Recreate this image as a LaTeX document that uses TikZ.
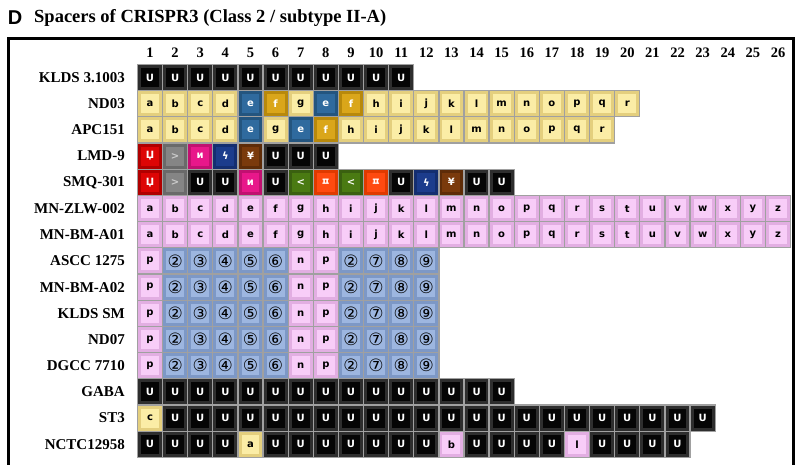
\documentclass[tikz,border=0pt]{standalone}
\usepackage{fontspec}
\setmainfont{Liberation Serif}
\newfontfamily\cellfont{DejaVu Sans}
\newfontfamily\headfont{Liberation Sans}
\newfontfamily\cjk{Noto Sans CJK KR}
\definecolor{cellgray}{HTML}{A0A0A0}
\definecolor{kbase}{HTML}{050505}\definecolor{kbev}{HTML}{2E2E2E}
\definecolor{tbase}{HTML}{FBEDA6}\definecolor{tbev}{HTML}{E4CF7E}
\definecolor{bbase}{HTML}{2F6A9E}\definecolor{bbev}{HTML}{24557F}
\definecolor{gbase}{HTML}{DAA61A}\definecolor{gbev}{HTML}{B8890C}
\definecolor{pbase}{HTML}{F8CDF8}\definecolor{pbev}{HTML}{E2AEE2}
\definecolor{lbase}{HTML}{9DB6E0}\definecolor{lbev}{HTML}{7D98C6}
\definecolor{rbase}{HTML}{DD0505}\definecolor{rbev}{HTML}{B00000}
\definecolor{ybase}{HTML}{858585}\definecolor{ybev}{HTML}{6A6A6A}
\definecolor{mbase}{HTML}{E8178A}\definecolor{mbev}{HTML}{C01070}
\definecolor{dbase}{HTML}{1C3C8C}\definecolor{dbev}{HTML}{142E70}
\definecolor{wbase}{HTML}{7A3A0C}\definecolor{wbev}{HTML}{5E2C08}
\definecolor{nbase}{HTML}{4A7A12}\definecolor{nbev}{HTML}{3A6010}
\definecolor{obase}{HTML}{FF4A10}\definecolor{obev}{HTML}{E03A00}
\tikzset{
  cell/.style 2 args={draw=cellgray, line width=1.3pt, fill=#2,
    minimum width=25.12pt, minimum height=26.2pt, inner sep=0pt,
    font=\cellfont\bfseries\fontsize{10}{10}\selectfont,
    path picture={\fill[#1] ([shift={(3.6pt,-3.6pt)}]path picture bounding box.north west)
      rectangle ([shift={(-3.6pt,3.6pt)}]path picture bounding box.south east);}},
  sK/.style={cell={kbase}{kbev}, text=white},
  sT/.style={cell={tbase}{tbev}, text=black},
  sB/.style={cell={bbase}{bbev}, text=white},
  sG/.style={cell={gbase}{gbev}, text=white},
  sP/.style={cell={pbase}{pbev}, text=black},
  sL/.style={cell={lbase}{lbev}, text=black, font=\cellfont\fontsize{17}{17}\selectfont},
  sR/.style={cell={rbase}{rbev}, text=white},
  sY/.style={cell={ybase}{ybev}, text=black!20},
  sM/.style={cell={mbase}{mbev}, text=white},
  sD/.style={cell={dbase}{dbev}, text=white},
  sW/.style={cell={wbase}{wbev}, text=white},
  sN/.style={cell={nbase}{nbev}, text=white},
  sO/.style={cell={obase}{obev}, text=white},
  lab/.style={anchor=east, inner sep=0pt, font=\bfseries\fontsize{15}{15}\selectfont},
  colnum/.style={inner sep=0pt, font=\bfseries\fontsize{14.5}{14.5}\selectfont}
}
\newcommand\cellat[4]{\node[#3] (r#1c#2) at ({150+(#2-1)*25.12},{77.5+(#1-1)*26.2}) {#4};}
\newcommand\rowlab[2]{\node[lab] (l#1) at (125,{77.5+(#1-1)*26.2}) {#2};}
\begin{document}
\begin{tikzpicture}[x=1pt,y=-1pt]
\useasboundingbox (0,0) rectangle (801,464);
\fill[white] (0,0) rectangle (801,464);
% title
\node[inner sep=0pt, font=\headfont\bfseries\fontsize{20}{20}\selectfont] (letter) at (15,18) {D};
\node[anchor=west, inner sep=0pt, font=\bfseries\fontsize{18.5}{18.5}\selectfont] (title) at (34,17.5) {Spacers of CRISPR3 (Class 2 / subtype II-A)};
% frame
\draw[line width=2.6pt] (8.3,38.3) rectangle (793.7,472);
% column numbers
\foreach \c in {1,...,26}{\node[colnum] (h\c) at ({150+(\c-1)*25.12},53) {\c};}
% labels
\rowlab{1}{KLDS 3.1003}
\rowlab{2}{ND03}
\rowlab{3}{APC151}
\rowlab{4}{LMD-9}
\rowlab{5}{SMQ-301}
\rowlab{6}{MN-ZLW-002}
\rowlab{7}{MN-BM-A01}
\rowlab{8}{ASCC 1275}
\rowlab{9}{MN-BM-A02}
\rowlab{10}{KLDS SM}
\rowlab{11}{ND07}
\rowlab{12}{DGCC 7710}
\rowlab{13}{GABA}
\rowlab{14}{ST3}
\rowlab{15}{NCTC12958}
% row 1
\foreach \c in {1,...,11}{\cellat{1}{\c}{sK}{U}}
% row 2
\foreach \s/\t [count=\c] in {sT/a,sT/b,sT/c,sT/d,sB/e,sG/f,sT/g,sB/e,sG/f,sT/h,sT/i,sT/j,sT/k,sT/l,sT/m,sT/n,sT/o,sT/p,sT/q,sT/r}{\cellat{2}{\c}{\s}{\t}}
% row 3
\foreach \s/\t [count=\c] in {sT/a,sT/b,sT/c,sT/d,sB/e,sT/g,sB/e,sG/f,sT/h,sT/i,sT/j,sT/k,sT/l,sT/m,sT/n,sT/o,sT/p,sT/q,sT/r}{\cellat{3}{\c}{\s}{\t}}
% row 4
\foreach \s/\t [count=\c] in {sR/Џ,sY/>,sM/и,sD/ϟ,sW/¥,sK/U,sK/U,sK/U}{\cellat{4}{\c}{\s}{\t}}
% row 5
\foreach \s/\t [count=\c] in {sR/Џ,sY/>,sK/U,sK/U,sM/и,sK/U,sN/<,sO/{\cjk\fontsize{10}{10}\selectfont ㅍ},sN/<,sO/{\cjk\fontsize{10}{10}\selectfont ㅍ},sK/U,sD/ϟ,sW/¥,sK/U,sK/U}{\cellat{5}{\c}{\s}{\t}}
% rows 6-7
\foreach \t [count=\c] in {a,b,c,d,e,f,g,h,i,j,k,l,m,n,o,p,q,r,s,t,u,v,w,x,y,z}{\cellat{6}{\c}{sP}{\t}\cellat{7}{\c}{sP}{\t}}
% rows 8-12
\foreach \r in {8,...,12}{
  \foreach \s/\t [count=\c] in {sP/p,sL/②,sL/③,sL/④,sL/⑤,sL/⑥,sP/n,sP/p,sL/②,sL/⑦,sL/⑧,sL/⑨}{\cellat{\r}{\c}{\s}{\t}}
}
% row 13
\foreach \c in {1,...,15}{\cellat{13}{\c}{sK}{U}}
% row 14
\cellat{14}{1}{sT}{c}
\foreach \c in {2,...,23}{\cellat{14}{\c}{sK}{U}}
% row 15
\foreach \c in {1,2,3,4,6,7,8,9,10,11,12,14,15,16,17,19,20,21,22}{\cellat{15}{\c}{sK}{U}}
\cellat{15}{5}{sT}{a}
\cellat{15}{13}{sP}{b}
\cellat{15}{18}{sP}{l}
\end{tikzpicture}
\end{document}
